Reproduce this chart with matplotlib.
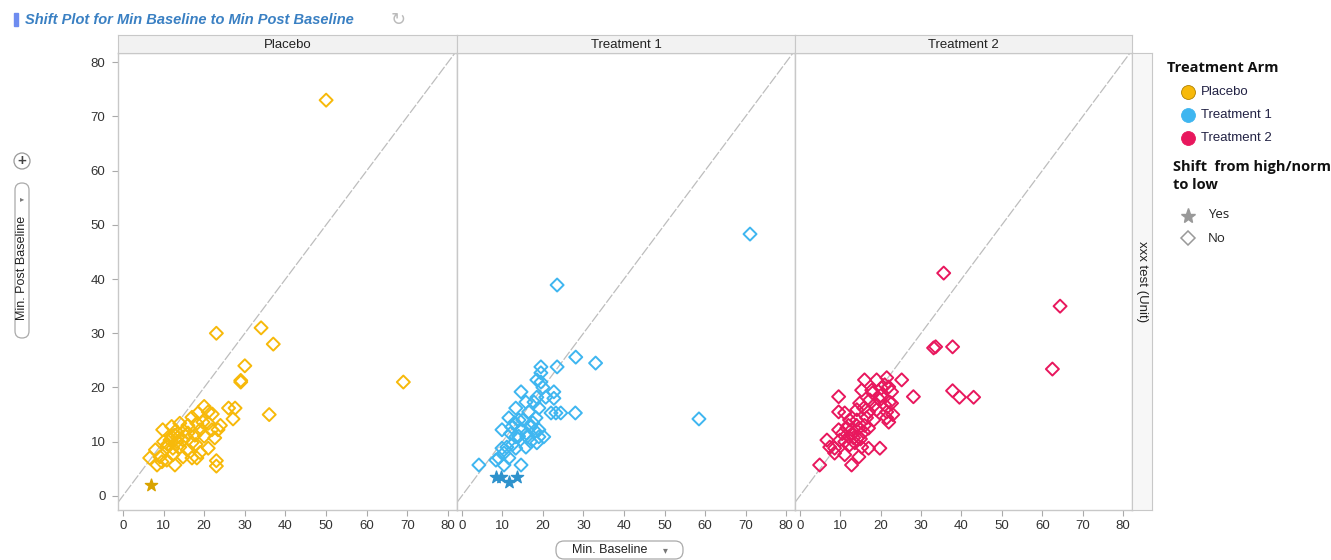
import matplotlib
matplotlib.use("Agg")
import matplotlib.pyplot as plt
from matplotlib.patches import FancyBboxPatch, Rectangle
from matplotlib.lines import Line2D

plt.rcParams['font.family'] = ['Liberation Sans', 'DejaVu Sans']

# ---- data: (Min. Baseline, Min. Post Baseline) per treatment arm ----
arms = ["Placebo", "Treatment 1", "Treatment 2"]
arm_colors = ["#F7B90A", "#3FB6F0", "#E8175D"]
star_colors = ["#D9A300", "#2E92CC", "#C8104A"]

placebo_base = [50, 69, 23, 34, 30, 37, 29, 29, 36, 23, 23, 26, 27.6, 27.1,
                21, 18.5, 22, 14, 18.2, 19.7, 21, 9.8, 19, 21.9, 23.4, 12.8, 16, 17.7,
                11.6, 13.3, 14.8, 22.6, 17, 10.8, 12.3, 14, 15.8, 21, 6.6, 9.1, 10.8,
                12.3, 14.8, 17, 18.2, 8.4, 9.6, 12.8, 13, 12, 15, 16, 11, 13.5, 20,
                24, 19, 8, 10, 17, 15.5, 12, 20, 18]
placebo_post = [73, 21, 30, 31, 24, 28, 21, 21.3, 15, 6.5, 5.5, 16.2, 16.2, 14.2,
                15.5, 15.3, 15.1, 13.4, 13.4, 13.6, 13.4, 12.2, 12.2, 12.2, 12.2, 11.2, 11.6, 11.2,
                10.3, 10, 10.3, 10.7, 9.8, 9, 8.8, 9, 8.5, 8.8, 7, 7.2, 6.6,
                7.6, 7.2, 7, 7, 5.7, 6.3, 5.7, 12, 11, 12, 13, 9.5, 10.8, 16.5,
                13, 8, 8.5, 10, 14.5, 11, 12.8, 11, 9.5]
placebo_shift_base = [7]
placebo_shift_post = [2]

trt1_base = [71.1, 23.5, 58.5, 33, 28.1, 28, 23.5, 19.5, 19.5, 18.5, 19.5, 14.6, 22.7,
             22.7, 20.7, 18.5, 15.8, 17.8, 13.3, 16.5, 19, 22, 23.2, 24.4, 11.6, 14.1,
             18.3, 9.9, 12.3, 14.8, 17, 19, 13.3, 16, 19, 20.2, 11.1, 13.3, 15.8, 18.5,
             9.9, 10.4, 9.1, 8.4, 11.6, 4.2, 10.4, 14.6, 15, 13, 17.5, 16, 12, 18, 14,
             20, 12.5, 17]
trt1_post = [48.3, 38.9, 14.2, 24.5, 25.6, 15.3, 23.8, 23.8, 22.7, 21.4, 21, 19.2, 19.2,
             18, 18.2, 18.2, 17.3, 17.3, 16.2, 15.5, 16.2, 15.3, 15.3, 15.3, 14.4, 14,
             14.4, 12.2, 12.7, 12.2, 12.7, 12.2, 10.9, 10.9, 10.9, 10.9, 9, 8.8, 9, 9.8,
             8.8, 7.9, 7, 6.6, 7, 5.7, 5.7, 5.7, 14, 13.5, 13.5, 11.5, 11.5, 12, 11,
             20, 9.5, 10]
trt1_shift_base = [8.4, 9.6, 11.6, 13.6]
trt1_shift_post = [3.5, 3.5, 2.6, 3.5]

trt2_base = [35.6, 64.4, 62.5, 33.1, 33.6, 37.8, 37.8, 39.5, 43, 28.1, 25.2,
             16, 19, 21.5, 20.2, 22, 22.7, 15.3, 17.8, 9.6, 17.3, 19.8, 22.2, 14.8,
             15.8, 18.5, 21, 22.7, 9.6, 11.1, 14.1, 17, 19, 21.5, 12.3, 14.1, 16.5,
             18.3, 21.5, 22, 9.6, 11.6, 12.8, 14.6, 15.8, 17, 12.1, 13.3, 14.6, 9.9,
             11.1, 12.3, 13.6, 15.3, 6.7, 7.4, 8.6, 17, 19.8, 8.6, 11.1, 14.6, 4.9,
             12.8, 13, 14, 16, 18, 20, 12, 21, 23, 10.5, 15]
trt2_post = [41.1, 35, 23.4, 27.3, 27.5, 27.5, 19.4, 18.2, 18.2, 18.3, 21.4,
             21.4, 21.4, 21.8, 19.9, 20.1, 19.2, 19.5, 19.5, 18.3, 17.7, 17.7, 17.3, 17.1,
             16.2, 16.8, 16.8, 17.1, 15.5, 15.3, 15.9, 15.5, 15.9, 15.5, 14, 14, 14.4,
             14, 14.4, 13.6, 12.2, 12.5, 12.2, 12.5, 11.8, 12.5, 10.9, 10.7, 10.9, 10.3,
             10, 9.4, 9.8, 9, 10.3, 9, 8.8, 8.8, 8.8, 7.9, 7.6, 7.2, 5.7,
             5.7, 11.5, 13, 13, 19, 18.5, 13, 20.5, 15, 11.5, 10.5]
trt2_shift_base = []
trt2_shift_post = []

base_data = [placebo_base, trt1_base, trt2_base]
post_data = [placebo_post, trt1_post, trt2_post]
shift_base = [placebo_shift_base, trt1_shift_base, trt2_shift_base]
shift_post = [placebo_shift_post, trt1_shift_post, trt2_shift_post]

ticks = [0, 10, 20, 30, 40, 50, 60, 70, 80]

W, H = 1331, 560
fig = plt.figure(figsize=(W / 100, H / 100), dpi=100)

def px_box(x0, y0, x1, y1):
    return [x0 / W, 1 - y1 / H, (x1 - x0) / W, (y1 - y0) / H]

panel_x = [(118, 457), (457, 795), (795, 1132)]
top, bottom = 53, 510
border = "#C8C8C8"

for i, (x0, x1) in enumerate(panel_x):
    ax = fig.add_axes(px_box(x0, top, x1, bottom))
    ax.set_xlim(-1.2, 82.2)
    ax.set_ylim(-2.6, 81.7)
    ax.plot([-1.2, 82.2], [-1.2, 82.2], color="#BDBDBD", lw=0.9,
            linestyle=(0, (8, 1.5)), zorder=1)
    ax.scatter(base_data[i], post_data[i], marker="D", s=44, facecolors="none",
               edgecolors=arm_colors[i], linewidths=1.4, zorder=3)
    if shift_base[i]:
        ax.scatter(shift_base[i], shift_post[i], marker="*", s=85,
                   color=star_colors[i], edgecolors=star_colors[i], zorder=4)
    ax.set_xticks(ticks)
    ax.set_xticklabels([str(t) for t in ticks])
    ax.set_yticks(ticks)
    for s in ax.spines.values():
        s.set_color(border)
        s.set_linewidth(1.0)
    ax.tick_params(axis="x", length=4, color="#AAAAAA", labelsize=9.5,
                   labelcolor="#333333", pad=3)
    if i == 0:
        ax.tick_params(axis="y", length=4, color="#AAAAAA", labelsize=9.5,
                       labelcolor="#333333", pad=5)
    else:
        ax.tick_params(axis="y", length=0, labelleft=False)

    # strip header
    sax = fig.add_axes(px_box(x0, 35, x1, top))
    sax.set_xticks([])
    sax.set_yticks([])
    sax.set_facecolor("#F2F2F2")
    for s in sax.spines.values():
        s.set_color(border)
    sax.text(0.5, 0.42, arms[i], ha="center", va="center", fontsize=9.5,
             color="#222222", transform=sax.transAxes)

# right strip
rax = fig.add_axes(px_box(1132, top, 1152, bottom))
rax.set_xticks([])
rax.set_yticks([])
rax.set_facecolor("#F7F7F7")
for s in rax.spines.values():
    s.set_color(border)
rax.text(0.5, 0.5, "xxx test (Unit)", rotation=270, ha="center", va="center",
         fontsize=9.5, color="#222222", transform=rax.transAxes)

# overlay for title, axis labels and legend
ov = fig.add_axes([0, 0, 1, 1])
ov.set_xlim(0, W)
ov.set_ylim(H, 0)
ov.axis("off")
ov.patch.set_visible(False)

ov.add_patch(Rectangle((14, 13), 4, 13, color="#6E8CF0"))
ov.text(25, 20, "Shift Plot for Min Baseline to Min Post Baseline", fontsize=10.5,
        fontweight="bold", fontstyle="italic", color="#3A80C3", va="center")
ov.text(398, 20, "\u21bb", fontsize=13, color="#BBBBBB", ha="center", va="center",
        family="DejaVu Sans")

# y-axis pill
ov.add_patch(FancyBboxPatch((15, 183), 14, 155, boxstyle="round,pad=0,rounding_size=7",
                            fc="white", ec="#AAAAAA", lw=0.9))
ov.text(22, 268, "Min. Post Baseline", rotation=90, ha="center", va="center",
        fontsize=9, color="#222222")
ov.text(22, 199, "\u25b8", rotation=0, ha="center", va="center", fontsize=6,
        color="#777777", family="DejaVu Sans")
ov.add_patch(plt.Circle((22, 161), 8, fc="white", ec="#999999", lw=0.9))
ov.text(22, 161, "+", ha="center", va="center", fontsize=11, color="#444444",
        fontweight="bold")

# x-axis pill
ov.add_patch(FancyBboxPatch((556, 541), 127, 18, boxstyle="round,pad=0,rounding_size=8",
                            fc="white", ec="#AAAAAA", lw=0.9))
ov.text(610, 550, "Min. Baseline", ha="center", va="center", fontsize=9,
        color="#222222")
ov.text(665, 550, "\u25be", ha="center", va="center", fontsize=7,
        color="#777777", family="DejaVu Sans")

# legend
ov.text(1167, 68, "Treatment Arm", fontsize=10.5, fontweight="bold",
        color="#111111", va="center", family=["Open Sans", "DejaVu Sans"])
for k, (lab, col) in enumerate(zip(arms, arm_colors)):
    yy = 92 + 23 * k
    ov.add_line(Line2D([1188], [yy], marker="o", markersize=10, color=col,
                       markeredgecolor="#B08000" if k == 0 else col, markeredgewidth=0.6))
    ov.text(1201, yy, lab, fontsize=9.5, color="#222244", va="center")
ov.text(1173, 176, "Shift  from high/norm\nto low", fontsize=10.5, fontweight="bold",
        color="#111111", va="center", linespacing=1.3, family=["Open Sans", "DejaVu Sans"])
ov.add_line(Line2D([1188], [216], marker="*", markersize=11, color="#999999"))
ov.text(1208, 215, "Yes", fontsize=9.5, color="#222222", va="center",
        family=["Open Sans", "DejaVu Sans"])
ov.add_line(Line2D([1188], [238], marker="D", markersize=7, markerfacecolor="none",
                   markeredgecolor="#999999", markeredgewidth=1.1, color="#999999"))
ov.text(1208, 238, "No", fontsize=9.5, color="#222222", va="center",
        family=["Open Sans", "DejaVu Sans"])

fig.savefig("out.png", dpi=100)
